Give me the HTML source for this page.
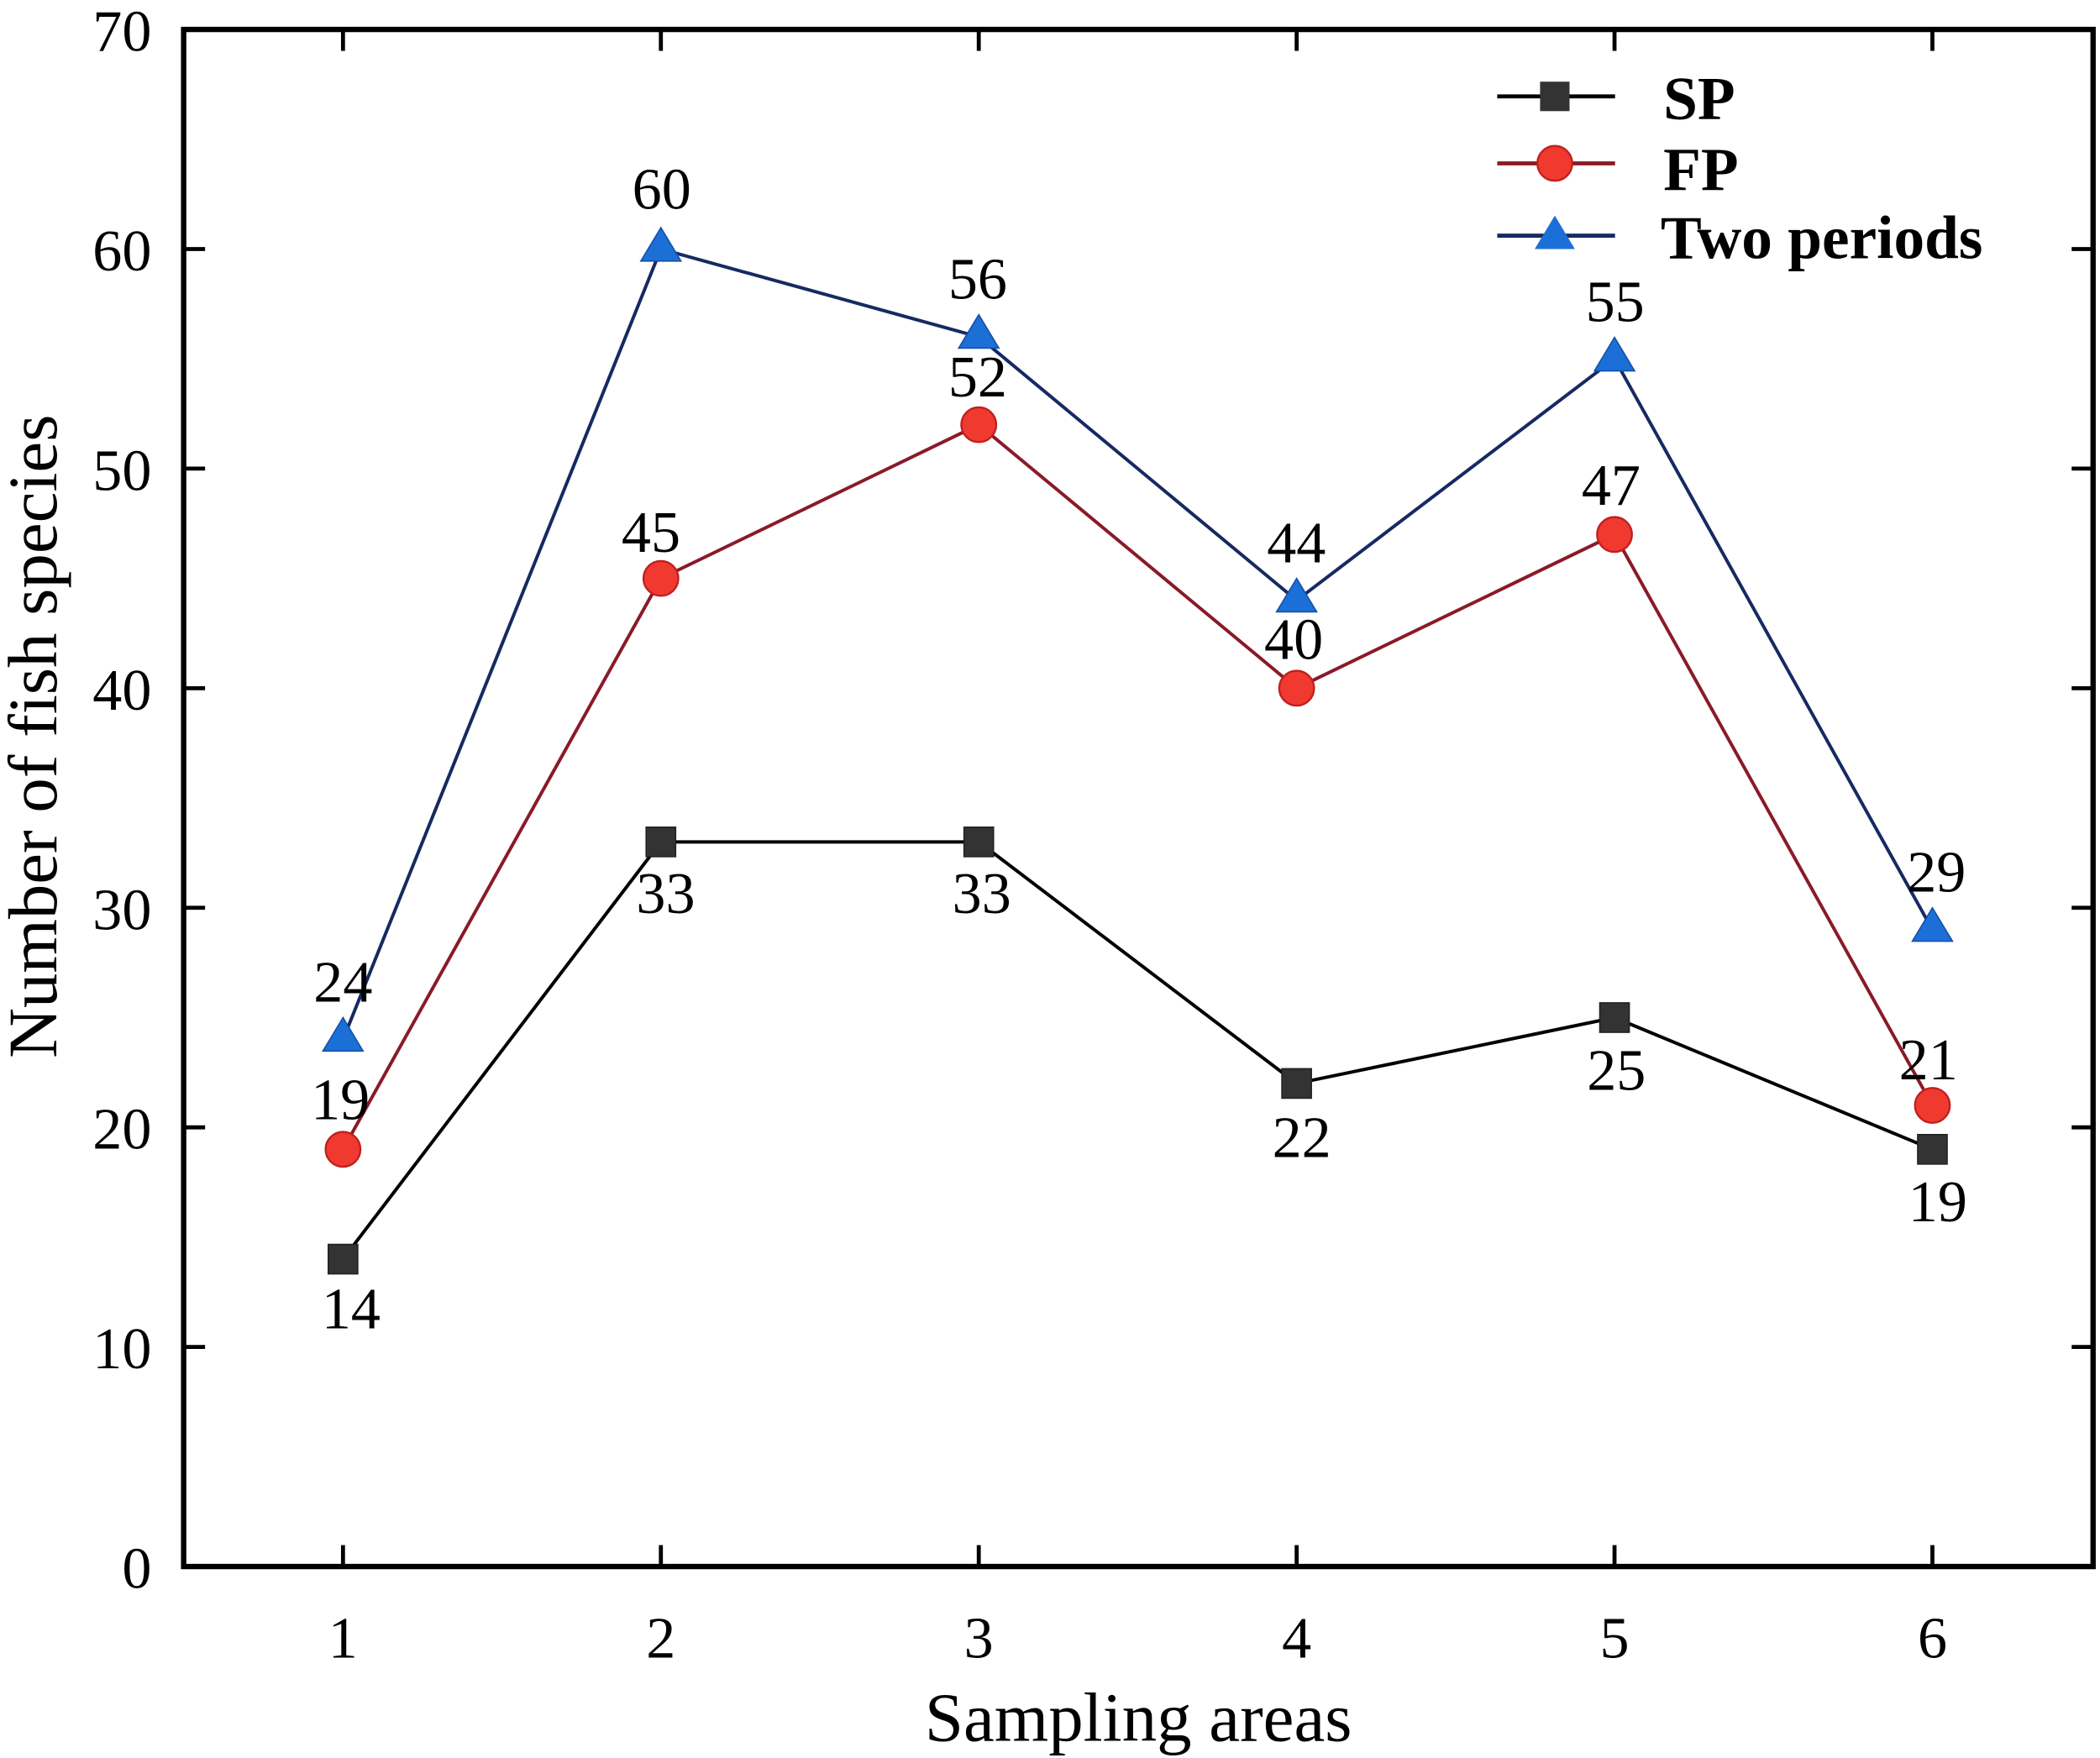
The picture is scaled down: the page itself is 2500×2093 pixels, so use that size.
<!DOCTYPE html>
<html><head><meta charset="utf-8"><style>html,body{margin:0;padding:0;background:#fff}svg{display:block}</style></head>
<body>
<svg width="2500" height="2093" viewBox="0 0 1568 1313" xmlns="http://www.w3.org/2000/svg" font-family="'Liberation Serif', serif">
<rect x="0" y="0" width="1568" height="1313" fill="#fff"/>
<rect x="137" y="22" width="1426" height="1148" fill="none" stroke="#000" stroke-width="4"/>
<g stroke="#000" stroke-width="3">
<line x1="256" y1="1170" x2="256" y2="1154"/><line x1="493.4" y1="1170" x2="493.4" y2="1154"/><line x1="730.8" y1="1170" x2="730.8" y2="1154"/><line x1="968.2" y1="1170" x2="968.2" y2="1154"/><line x1="1205.6" y1="1170" x2="1205.6" y2="1154"/><line x1="1443" y1="1170" x2="1443" y2="1154"/>
<line x1="256" y1="22" x2="256" y2="38"/><line x1="493.4" y1="22" x2="493.4" y2="38"/><line x1="730.8" y1="22" x2="730.8" y2="38"/><line x1="968.2" y1="22" x2="968.2" y2="38"/><line x1="1205.6" y1="22" x2="1205.6" y2="38"/><line x1="1443" y1="22" x2="1443" y2="38"/>
<line x1="137" y1="1006" x2="153" y2="1006"/><line x1="137" y1="842" x2="153" y2="842"/><line x1="137" y1="678" x2="153" y2="678"/><line x1="137" y1="514" x2="153" y2="514"/><line x1="137" y1="350" x2="153" y2="350"/><line x1="137" y1="186" x2="153" y2="186"/>
<line x1="1563" y1="1006" x2="1547" y2="1006"/><line x1="1563" y1="842" x2="1547" y2="842"/><line x1="1563" y1="678" x2="1547" y2="678"/><line x1="1563" y1="514" x2="1547" y2="514"/><line x1="1563" y1="350" x2="1547" y2="350"/><line x1="1563" y1="186" x2="1547" y2="186"/>
</g>
<g font-size="44" text-anchor="end" fill="#000">
<text x="113" y="1186">0</text><text x="113" y="1022">10</text><text x="113" y="858">20</text><text x="113" y="694">30</text><text x="113" y="530">40</text><text x="113" y="366">50</text><text x="113" y="202">60</text><text x="113" y="38">70</text>
</g>
<g font-size="44" text-anchor="middle" fill="#000">
<text x="256" y="1238">1</text><text x="493.4" y="1238">2</text><text x="730.8" y="1238">3</text><text x="968.2" y="1238">4</text><text x="1205.6" y="1238">5</text><text x="1443" y="1238">6</text>
</g>
<text x="850" y="1300" font-size="52" text-anchor="middle">Sampling areas</text>
<text transform="translate(42,550) rotate(-90)" font-size="52" text-anchor="middle">Number of fish species</text>
<polyline fill="none" stroke="#000" stroke-width="2.5" points="256,940.4 493.4,628.8 730.8,628.8 968.2,809.2 1205.6,760 1443,858.4"/>
<polyline fill="none" stroke="#8a1a28" stroke-width="2.5" points="256,858.4 493.4,432 730.8,317.2 968.2,514 1205.6,399.2 1443,825.6"/>
<polyline fill="none" stroke="#162a62" stroke-width="2.5" points="256,776.4 493.4,186 730.8,251.6 968.2,448.4 1205.6,268 1443,694.4"/>
<g fill="#333" stroke="#222" stroke-width="1">
<rect x="245" y="929.4" width="22" height="22"/><rect x="482.4" y="617.8" width="22" height="22"/><rect x="719.8" y="617.8" width="22" height="22"/><rect x="957.2" y="798.2" width="22" height="22"/><rect x="1194.6" y="749" width="22" height="22"/><rect x="1432" y="847.4" width="22" height="22"/>
</g>
<g fill="#f03a30" stroke="#c02020" stroke-width="1.5">
<circle cx="256" cy="858.4" r="13"/><circle cx="493.4" cy="432" r="13"/><circle cx="730.8" cy="317.2" r="13"/><circle cx="968.2" cy="514" r="13"/><circle cx="1205.6" cy="399.2" r="13"/><circle cx="1443" cy="825.6" r="13"/>
</g>
<g fill="#1c6fd6" stroke="#1450a8" stroke-width="1">
<polygon points="256,760 241,785 271,785"/><polygon points="493.4,170 478.4,195 508.4,195"/><polygon points="730.8,235 715.8,260 745.8,260"/><polygon points="968.2,432 953.2,457 983.2,457"/><polygon points="1205.6,252 1190.6,277 1220.6,277"/><polygon points="1443,678 1428,703 1458,703"/>
</g>
<g font-size="44" text-anchor="middle" fill="#000">
<text x="262" y="992">14</text><text x="497" y="682">33</text><text x="733" y="682">33</text><text x="972" y="864">22</text><text x="1207" y="814">25</text><text x="1447" y="912">19</text>
<text x="254" y="836">19</text><text x="486" y="412">45</text><text x="730" y="296">52</text><text x="966" y="492">40</text><text x="1203" y="377">47</text><text x="1440" y="806">21</text>
<text x="256" y="748">24</text><text x="494" y="156">60</text><text x="730" y="223">56</text><text x="968" y="420">44</text><text x="1206" y="240">55</text><text x="1446" y="666">29</text>
</g>
<line x1="1118" y1="72" x2="1206" y2="72" stroke="#000" stroke-width="3"/>
<rect x="1150" y="61" width="22" height="22" fill="#333"/>
<line x1="1118" y1="122" x2="1206" y2="122" stroke="#8a1a28" stroke-width="3"/>
<circle cx="1161" cy="122" r="13" fill="#f03a30" stroke="#c02020" stroke-width="1.5"/>
<line x1="1118" y1="176" x2="1206" y2="176" stroke="#162a62" stroke-width="3"/>
<polygon points="1161,161 1146,186 1176,186" fill="#1c6fd6"/>
<g font-size="46" font-weight="bold" fill="#000">
<text x="1242" y="89">SP</text><text x="1242" y="142">FP</text><text x="1240" y="193">Two periods</text>
</g>
</svg>
</body></html>
